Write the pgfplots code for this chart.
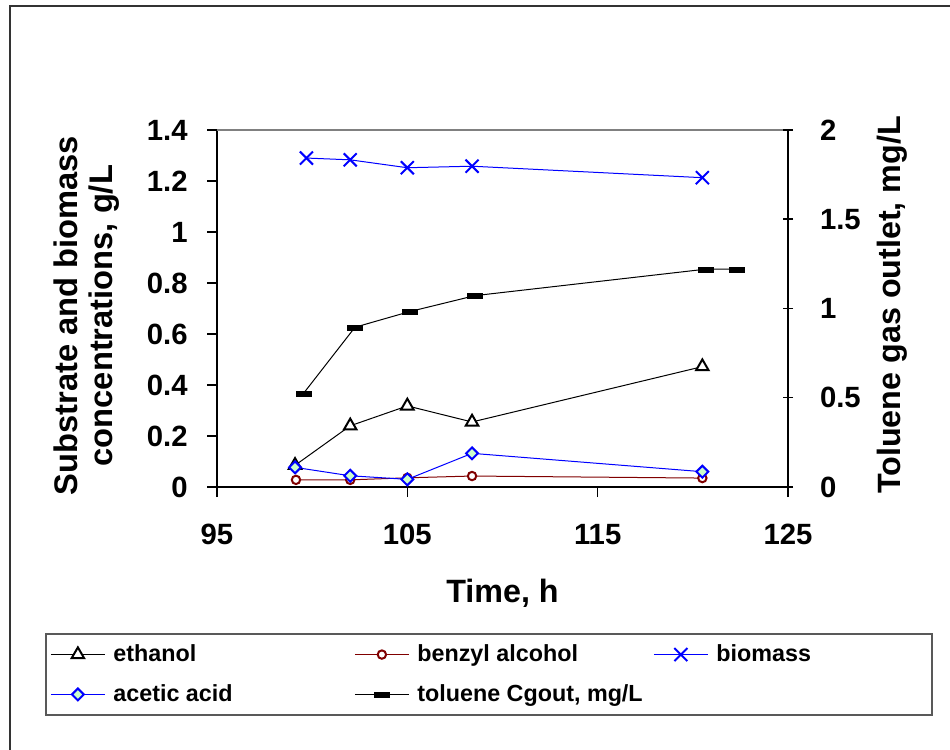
\documentclass[border=0pt]{standalone}
\usepackage{fontspec}
\setmainfont{Liberation Sans}
\usepackage{pgfplots}
\pgfplotsset{compat=1.18}
\definecolor{mar}{RGB}{128,0,0}
\definecolor{lgreen}{RGB}{204,255,204}
\definecolor{bl}{RGB}{0,0,255}
\pgfplotsset{
 mystyle/.style={
  at={(108.5bp,131.5bp)}, anchor=south west, scale only axis,
  width=285.5bp, height=178.5bp,
  xmin=95, xmax=125, clip=false,
  /pgf/number format/assume math mode=true,
  tick label style={font=\fontsize{14.7}{17}\selectfont\bfseries},
  axis line style={line width=0.75bp, black},
  major tick style={line width=0.75bp, black},
  major tick length=5bp,
 }
}
\begin{document}
\begin{tikzpicture}
\useasboundingbox (0,0) rectangle (475bp,375bp);
\fill[white] (0,0) rectangle (475bp,375bp);
\draw[line width=1bp, black!80] (5bp,-1bp) -- (5bp,372bp) -- (476bp,372bp);
\draw[line width=0.6bp, black!65] (23bp,17.5bp) rectangle (466bp,58bp);

\begin{axis}[mystyle,
  axis x line*=bottom, axis y line*=left,
  tick align=outside,
  ymin=0, ymax=1.4,
  ytick={0,0.2,0.4,0.6,0.8,1,1.2,1.4},
  xtick={95,105,115,125},
  yticklabel style={xshift=-6.2bp},
  xticklabel style={yshift=-10bp},
  xlabel={Time, h},
  every axis x label/.style={at={(axis description cs:0.5,-0.297)}, anchor=center,
    font=\fontsize{16.2}{17.5}\selectfont\bfseries},
  ylabel={Substrate and biomass\\concentrations, g/L},
  every axis y label/.style={at={(axis description cs:-0.228,0.48)}, rotate=90, anchor=center, align=center,
    font=\fontsize{16.4}{17.5}\selectfont\bfseries},
]
\draw[black!50, line width=0.75bp] (axis description cs:0,1) -- (axis description cs:1,1);
% ethanol
\addplot[black, line width=0.5bp, mark=triangle*, mark size=3.6bp,
  mark options={fill=white, draw=black, line width=1bp}]
  coordinates {(99.1,0.085) (102.0,0.24) (105.0,0.318) (108.4,0.255) (120.5,0.472)};
% benzyl alcohol
\addplot[mar, line width=0.5bp, mark=*, mark size=2.1bp,
  mark options={fill=white, draw=mar, line width=1bp}]
  coordinates {(99.15,0.028) (102.0,0.028) (105.0,0.036) (108.4,0.043) (120.5,0.035)};
% biomass
\addplot[bl, line width=0.5bp, mark=x, mark size=4.6bp,
  mark options={draw=bl, line width=1bp}]
  coordinates {(99.7,1.29) (102.0,1.283) (105.0,1.252) (108.4,1.258) (120.5,1.213)};
% acetic acid
\addplot[bl, line width=0.5bp, mark=square*, mark size=2.1bp,
  mark options={fill=lgreen, draw=bl, line width=1bp, rotate=45}]
  coordinates {(99.1,0.077) (102.0,0.044) (105.0,0.030) (108.4,0.132) (120.5,0.060)};
\end{axis}

\begin{axis}[mystyle,
  axis x line=none, axis y line*=right,
  tick align=center,
  ymin=0, ymax=2,
  ytick={0,0.5,1,1.5,2},
  yticklabel style={xshift=10bp},
  ylabel={Toluene gas outlet, mg/L},
  every axis y label/.style={at={(axis description cs:1.182,0.51)}, rotate=90, anchor=center,
    font=\fontsize{16.2}{17.5}\selectfont\bfseries},
  legend columns=3,
  legend cell align=left,
  legend style={at={(axis description cs:-0.2995,-0.418)}, anchor=north west,
    draw=none, fill=none, inner xsep=2bp, inner ysep=2bp,
    font=\fontsize{11.7}{14}\selectfont\bfseries, row sep=6bp,
    nodes={inner sep=2bp}},
  legend image code/.code={\draw[mark repeat=2,mark phase=2,#1] plot coordinates {(0bp,0bp) (13.5bp,0bp) (27bp,0bp)};},
]
\addlegendimage{black, line width=0.5bp, mark=triangle*, mark size=3.6bp,
  mark options={fill=white, draw=black, line width=1bp}}
\addlegendentry{\makebox[120.5bp][l]{\hspace{2bp}ethanol}}
\addlegendimage{mar, line width=0.5bp, mark=*, mark size=2.1bp,
  mark options={fill=white, draw=mar, line width=1bp}}
\addlegendentry{\makebox[118bp][l]{\hspace{2bp}benzyl alcohol}}
\addlegendimage{bl, line width=0.5bp, mark=x, mark size=4.6bp,
  mark options={draw=bl, line width=1bp}}
\addlegendentry{\hspace{2bp}biomass}
\addlegendimage{bl, line width=0.5bp, mark=square*, mark size=2.1bp,
  mark options={fill=lgreen, draw=bl, line width=1bp, rotate=45}}
\addlegendentry{\makebox[120.5bp][l]{\hspace{2bp}acetic acid}}
% toluene Cgout (right axis)
\addplot[black, line width=0.5bp, mark=square*, mark size=1.25bp,
  mark options={fill=black, draw=black, line width=0.2bp, xscale=3}]
  coordinates {(99.55,0.525) (102.25,0.895) (105.1,0.982) (108.55,1.072) (120.65,1.22) (122.3,1.22)};
\addlegendentry{\makebox[118bp][l]{\hspace{2bp}toluene Cgout, mg/L}}
\end{axis}
\end{tikzpicture}
\end{document}
